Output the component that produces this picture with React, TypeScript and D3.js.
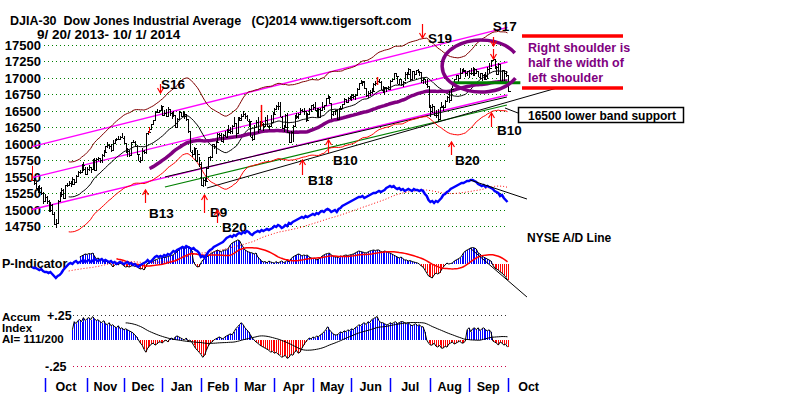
import React from 'react';
import * as d3 from 'd3';

const FONT = '"Liberation Sans", Arial, Helvetica, sans-serif';

// trading-day index 0 = 2013-09-20 ... 259 = 2014-10-01
const closes = [
  15452,15401,15334,15273,15328,15258,15130,
  15191,15133,14997,15073,14936,14776,14802,15126,15237,15301,15168,15373,15371,15400,15392,15467,15413,15510,15570,15569,15680,15618,15546,
  15616,15639,15618,15747,15594,15762,15784,15751,15822,15876,15962,15976,15968,15901,16010,16065,16073,16073,16098,16086,
  16008,15915,15889,15822,16020,16025,15973,15844,15740,15755,15885,15875,16168,16179,16221,16294,16358,16479,16479,16505,16577,
  16441,16470,16425,16531,16463,16444,16437,16257,16374,16482,16418,16459,16415,16374,16198,15879,15838,15929,15739,15849,15699,
  15373,15445,15441,15629,15795,15802,15994,15964,16027,16154,16130,16040,16133,16104,16208,16180,16199,16273,16322,
  16168,16396,16361,16422,16453,16419,16352,16341,16109,16066,16247,16337,16223,16332,16303,16276,16368,16268,16264,16323,16458,
  16533,16573,16573,16413,16246,16257,16438,16171,16027,16174,16263,16425,16409,16449,16514,16501,16502,16361,16449,16535,16581,
  16559,16513,16531,16402,16518,16551,16583,16695,16715,16614,16447,16492,16512,16374,16533,16543,16607,16676,16634,16699,16717,
  16743,16722,16738,16836,16924,16943,16946,16844,16734,16776,16781,16808,16906,16921,16947,16938,16818,16868,16846,16851,16827,
  16957,16976,17068,17024,16907,16985,16915,16944,17055,17061,17138,16977,17100,17052,17114,17086,17083,16961,16983,16912,16881,16563,
  16493,16569,16430,16443,16369,16554,16570,16561,16652,16713,16663,16839,16920,16980,17039,17001,17077,17106,17122,17079,17098,
  17068,17079,17069,17138,17111,17014,17068,17049,16987,17032,17131,17157,17266,17280,17173,17056,17211,16946,17113,17071,17043,
  16805,
];
const highs = [
  15660,15480,15420,15360,15370,15340,15260,
  15230,15210,15150,15120,15090,14960,14850,15150,15260,15320,15310,15380,15400,15430,15440,15500,15470,15530,15580,15600,15690,15720,15640,
  15650,15670,15650,15770,15790,15780,15800,15790,15840,15900,15970,16030,16000,16000,16050,16070,16090,16110,16120,16170,
  16110,16010,15940,15900,16030,16060,16040,15980,15850,15800,15930,15910,16170,16200,16250,16300,16360,16490,16530,16520,16590,
  16570,16520,16530,16560,16530,16480,16490,16440,16390,16500,16480,16490,16480,16450,16360,16190,15900,15950,15930,15900,15800,
  15720,15480,15480,15640,15800,15810,16000,16000,16040,16160,16170,16170,16150,16200,16230,16290,16250,16280,16400,
  16320,16410,16410,16450,16490,16460,16430,16370,16350,16130,16280,16360,16400,16350,16450,16310,16400,16430,16290,16430,16480,
  16540,16590,16630,16630,16420,16290,16450,16460,16180,16200,16290,16440,16460,16460,16540,16530,16540,16500,16460,16550,16590,
  16600,16630,16540,16540,16550,16630,16590,16700,16740,16720,16610,16500,16520,16510,16550,16580,16610,16690,16680,16710,16730,
  16750,16750,16750,16850,16930,16970,16950,16940,16850,16800,16810,16840,16920,16960,16950,16980,16960,16880,16860,16860,16870,
  16970,16990,17080,17070,17020,16990,16990,16960,17090,17090,17150,17140,17110,17100,17120,17130,17110,17080,17000,16990,16980,16870,
  16590,16600,16560,16520,16530,16560,16630,16590,16670,16730,16800,16850,16930,16990,17040,17050,17150,17130,17150,17120,17110,
  17120,17150,17160,17150,17140,17110,17070,17070,17060,17090,17160,17220,17270,17350,17280,17180,17220,17210,17120,17110,17110,
  17050,
];
const lows = [
  15430,15370,15310,15250,15250,15220,15080,
  15110,15090,14970,14960,14920,14760,14720,14800,15110,15190,15160,15160,15340,15360,15350,15380,15380,15400,15500,15540,15560,15580,15520,
  15530,15590,15560,15610,15580,15580,15740,15700,15700,15800,15860,15940,15920,15880,15900,15990,16040,16050,16070,16080,
  15990,15860,15800,15800,15820,16010,15960,15840,15730,15700,15750,15840,15840,16130,16180,16220,16290,16350,16470,16460,16500,
  16420,16440,16400,16420,16420,16380,16400,16240,16250,16370,16400,16410,16380,16350,16160,15870,15800,15840,15730,15740,15640,
  15360,15340,15360,15440,15630,15740,15800,15920,15850,16010,16080,16030,16010,16100,16100,16160,16150,16150,16250,
  16080,16170,16340,16360,16420,16380,16340,16260,16100,16040,16060,16240,16170,16220,16290,16190,16270,16260,16210,16260,16320,
  16450,16510,16510,16400,16230,16180,16250,16160,16010,16030,16020,16260,16380,16380,16450,16480,16440,16330,16340,16440,16480,
  16520,16490,16410,16390,16400,16520,16510,16580,16690,16600,16370,16420,16440,16360,16380,16510,16540,16610,16620,16640,16670,
  16650,16680,16670,16730,16830,16920,16880,16830,16710,16700,16730,16760,16780,16880,16900,16930,16810,16770,16740,16790,16810,
  16830,16940,16970,17010,16900,16910,16880,16860,16950,16990,17050,16960,16980,16990,17050,17070,17030,16920,16900,16900,16850,16550,
  16400,16460,16420,16390,16330,16360,16550,16500,16560,16650,16620,16670,16840,16900,16980,16940,17000,17070,17090,17020,17030,
  17000,17050,17030,17030,17060,17010,16980,16950,16970,16980,16990,17080,17160,17260,17130,17050,17040,16940,16950,16950,17010,
  16780,
];

const priceTicks = [14750,15000,15250,15500,15750,16000,16250,16500,16750,17000,17250,17500];
const monthTickIdx = [7,30,50,71,92,111,132,153,174,195,217,238,259,282];
const monthLabels = ['Oct','Nov','Dec','Jan','Feb','Mar','Apr','May','Jun','Jul','Aug','Sep','Oct'];

// NYSE A/D line (relative units)
const adLine = [
  11,10,10,9,8,9,7,6,6,5, 6,4,2,0,2,3,5,8,10,12, 14,15,14,16,17,15,16,17,18,16,
  17,18,16,17,19,18,17,18,19,17, 18,17,16,17,15,16,14,15,16,15, 14,15,16,14,15,13,14,12,11,13,
  14,15,16,18,16,17,19,21,22,21, 22,21,23,22,24,23,25,27,26,28, 29,30,31,30,32,31,30,29,30,28,
  27,25,21,22,20,23,26,28,29,31, 32,33,34,35,36,38,40,41,42,41, 43,42,44,45,44,46,45,47,46,44,
  43,45,46,47,46,48,47,48,49,48, 49,50,52,51,53,52,50,51,53,52, 55,54,56,57,58,59,60,61,60,62,
  61,62,63,64,63,65,64,66,67,66, 68,69,68,66,67,68,66,69,70,72, 73,74,75,76,77,78,79,80,81,81,
  82,80,81,82,83,84,85,85,86,87, 86,87,88,90,91,92,91,92,90,89, 90,88,89,87,88,89,88,87,89,88,
  88,87,88,87,84,82,78,76,77,75, 77,76,78,80,83,84,86,87,89,90, 91,92,93,94,95,95,96,97,97,98,
  98,97,96,94,93,92,93,91,92,91, 90,89,87,86,85,82,83,80,78,76,
];

// P-Indicator, starting at day index 26
const pStart = 26;
const pIndicator = [
  70,80,90,100,95,105,100,110,80,50, 60,45,40,30,35,20,10,0,-30,-10,
  5,-10,10,0,-20,-30,-25,-30,-20,-15, -25,-10,-40,-50,-45,-60,-30,10,15,25,
  30,40,45,55,60,60,70,65,75,80, 85,90,110,120,140,155,160,150,165,170,
  170,130,20,-10,-30,-25,10,40,55,70, 80,100,110,120,130,140,130,120,135,140,
  140,160,190,210,220,230,240,235,200,170, 140,130,120,115,110,100,110,70,50,30,
  20,25,10,30,20,15,10,25,10,20, 30,15,20,40,20,50,70,80,90,100,
  95,80,90,85,90,70,60,55,60,40, 50,60,80,90,100,105,110,90,80,70,
  70,65,80,75,85,90,85,90,95,100, 110,120,130,125,120,115,110,120,130,135,
  140,135,140,140,125,120,130,125,115,110, 100,90,80,70,60,70,55,40,40,30,
  35,25,20,15,10,0,-20,-30,-60,-90, -120,-130,-140,-110,-90,-100,-90,-60,-30,-10,
  10,0,5,10,30,40,50,60,80,110, 130,140,150,160,165,160,150,110,100,80,
  70,60,50,40,30,-10,-40,-50,-60,-80, -90,-110,-130,-160,
];

// Accumulation Index (hundredths), starting at day index 22
const aiStart = 22;
const accumIndex = [
  10,18,16,19,20,18,22,19,21,22, 20,23,21,19,20,18,17,19,16,15,
  17,14,15,13,12,14,11,12,10,11, 10,9,8,7,5,3,0,-3,-5,-9,
  -12,-8,-6,-4,-3,-5,-4,-2,-2,-3, -1,0,-2,1,2,0,3,4,3,2,
  1,0,2,-1,0,-2,-5,-8,-10,-12, -14,-17,-15,-10,-6,-3,-2,0,1,2,
  3,2,1,3,4,5,6,5,8,11, 13,15,17,15,12,10,8,5,2,0,
  -2,-3,-5,-6,-7,-8,-9,-10,-12,-11, -13,-12,-14,-15,-17,-16,-15,-18,-17,-14,
  -15,-12,-10,-13,-12,-8,-5,-2,0,2, 1,3,2,4,3,5,6,8,10,13,
  10,8,6,5,5,6,8,7,9,8, 10,9,11,10,12,13,15,14,16,17,
  15,18,17,20,21,22,23,19,17,17, 16,15,15,17,16,17,18,16,17,18,
  18,17,16,17,15,14,15,16,14,15, 13,13,8,0,-3,-5,-5,-3,-6,-7,
  -5,-8,-8,-6,-7,-4,-3,-2,-4,-3, -2,-1,-3,-3,-1,10,12,8,11,12,
  10,12,9,11,12,10,9,10,8,-1, -2,-3,-5,-2,-3,-5,-4,-7,
];

// straight lines: [i1, v1, i2, v2]
const channelLines = [
  [0, 15957, 259, 17767],
  [0, 15485, 259, 17242],
  [0, 15000, 259, 16740],
];
const blackTrendLines = [
  [72.4, 15495, 258.7, 16710],
  [95.3, 15327, 286, 16847],
];
const greenTrendLines = [[72.4, 15343, 258.7, 16588]];
const adTrend = [238.6, 98, 269.6, 79];
const pTrend = [238.6, 160, 269.6, -330];
const neckline = [229, 16925, 266, 16925];

const redBarIdx = [0, 64];
const redMarks = [[125, 16590, 16260], [188, 17014, 16892]];

// signal arrows: index, tail value, tip value; label at (li, lv)
const signals = [
  { t: 'S16', i: 69.7, from: 16907, to: 16771, li: 70.3, lv: 16831 },
  { t: 'S19', i: 212.4, from: 17819, to: 17606, li: 215.7, lv: 17530 },
  { t: 'S17', i: 251, from: 17622, to: 17485, li: 251, lv: 17713 },
  { t: '', i: 251, from: 17439, to: 17287, li: 0, lv: 0 },
  { t: 'B13', i: 61.5, from: 15100, to: 15297, li: 63.7, lv: 14872 },
  { t: 'B9', i: 93.7, from: 14948, to: 15221, li: 97, lv: 14887 },
  { t: 'B20', i: 100.8, from: 14796, to: 14993, li: 103.5, lv: 14659 },
  { t: 'B18', i: 147, from: 15525, to: 15753, li: 150.3, lv: 15373 },
  { t: 'B10', i: 161.2, from: 15859, to: 16057, li: 164, lv: 15677 },
  { t: 'B20', i: 228.2, from: 15829, to: 16026, li: 230.4, lv: 15677 },
  { t: 'B10', i: 250, from: 16254, to: 16467, li: 253.3, lv: 16133 },
];

const shoulderEllipse = { i: 244.6, v: 17181, di: 21.2, dv: 395 };

function trailingMean(vals: number[], win: number, first: number, offset: number, partial = false) {
  const out: [number, number][] = [];
  for (let k = first; k < vals.length; k++) {
    const s = partial ? Math.max(0, k - win + 1) : k - win + 1;
    if (s < 0) continue;
    const slice = vals.slice(s, k + 1);
    out.push([k + offset, d3.mean(slice) as number]);
  }
  return out;
}

export default function App() {
  const x = d3.scaleLinear().domain([0, 259]).range([32, 507.5]);
  const y = d3.scaleLinear().domain([14750, 17500]).range([226, 45]);
  const adY = d3.scaleLinear().domain([0, 100]).range([278, 178]);
  const pY = d3.scaleLinear().domain([-300, 300]).range([294, 234]);
  const aiY = d3.scaleLinear().domain([-0.25, 0.25]).range([365.5, 314.5]);
  const px = (i: number) => Math.round(x(i)) + 0.5;

  const n = Math.min(closes.length, highs.length, lows.length);
  const ma21 = trailingMean(closes, 21, 20, 0);
  const ma65 = trailingMean(closes, 65, 64, 0);
  const adMA = trailingMean(adLine, 30, 20, 0, true);
  const pMA = trailingMean(pIndicator, 21, 20, pStart);
  const aiMA = trailingMean(accumIndex, 30, 29, aiStart);

  const priceLine = d3.line<[number, number]>().x(d => x(d[0])).y(d => y(d[1]));
  const adPath = d3.line<[number, number]>().x(d => x(d[0])).y(d => adY(d[1]));
  const pPath = d3.line<[number, number]>().x(d => x(d[0])).y(d => pY(d[1]));
  const aiPath = d3.line<[number, number]>().x(d => x(d[0])).y(d => aiY(d[1] / 100));

  const upper = ma21.map(([i, m]) => [i, m * 1.035] as [number, number]);
  const lower = ma21.map(([i, m]) => [i, m * 0.965] as [number, number]);

  const seg = (l: number[], color: string, w: number, key: string, dash?: string) => (
    <line key={key} x1={x(l[0])} y1={y(l[1])} x2={x(l[2])} y2={y(l[3])} stroke={color} strokeWidth={w} strokeDasharray={dash} />
  );

  const arrow = (xp: number, yTail: number, yTip: number, key: string) => {
    const dir = Math.sign(yTail - yTip);
    return (
      <g key={key} stroke="#ff0000" strokeWidth={1.2} fill="none">
        <line x1={xp} y1={yTail} x2={xp} y2={yTip} />
        <polyline points={`${xp - 3},${yTip + dir * 5} ${xp},${yTip} ${xp + 3},${yTip + dir * 5}`} />
      </g>
    );
  };

  // ellipse arc (open on the right side)
  const ecx = x(shoulderEllipse.i), ecy = y(shoulderEllipse.v);
  const erx = x(shoulderEllipse.i + shoulderEllipse.di) - ecx;
  const ery = y(shoulderEllipse.v - shoulderEllipse.dv) - ecy;
  const a0 = (-30 * Math.PI) / 180, a1 = (28 * Math.PI) / 180;
  const ellipsePath = `M${ecx + erx * Math.cos(a0)},${ecy + ery * Math.sin(a0)} A${erx},${ery} 0 1 0 ${ecx + erx * Math.cos(a1)},${ecy + ery * Math.sin(a1)}`;

  const gx0 = 44, gx1 = 508;
  const bold = { fontFamily: FONT, fontWeight: 700 } as const;

  return (
    <svg width={800} height={395} style={{ position: 'absolute', left: 0, top: 0, background: '#fff' }}>
      <rect x={0} y={0} width={800} height={395} fill="#fff" />
      {/* titles */}
      <text x={10} y={24.5} fontSize={12.5} {...bold} style={{ whiteSpace: 'pre' }}>
        {'DJIA-30  Dow Jones Industrial Average   (C)2014 www.tigersoft.com'}
      </text>
      <text x={37} y={39} fontSize={13.5} {...bold} style={{ whiteSpace: 'pre' }}>
        {'9/ 20/ 2013- 10/ 1/ 2014'}
      </text>

      {/* grid + y labels */}
      {priceTicks.map(t => (
        <g key={t}>
          <line x1={gx0} x2={gx1} y1={Math.round(y(t)) + 0.5} y2={Math.round(y(t)) + 0.5} stroke="#008000" strokeDasharray="1 3" />
          <text x={41} y={y(t) + 5} fontSize={13} textAnchor="end" {...bold}>{t}</text>
        </g>
      ))}

      {/* channel and trend lines */}
      {channelLines.map((l, k) => seg(l, '#ff00ff', 1.4, 'ch' + k))}
      {greenTrendLines.map((l, k) => seg(l, '#008000', 1.2, 'gt' + k))}
      {blackTrendLines.map((l, k) => seg(l, '#000', 1, 'bt' + k))}

      {/* bands */}
      <path d={priceLine(upper) || ''} fill="none" stroke="#800000" strokeWidth={1} />
      <path d={priceLine(lower) || ''} fill="none" stroke="#ff0000" strokeWidth={1} />
      <path d={priceLine(ma21) || ''} fill="none" stroke="#000" strokeWidth={1} />
      <path d={priceLine(ma65) || ''} fill="none" stroke="#800080" strokeWidth={3.5} />

      {/* price bars */}
      {d3.range(n).map(i => {
        const c = redBarIdx.includes(i) ? '#ff0000' : '#000';
        const xx = px(i);
        const yc = Math.round(y(closes[i])) + 0.5;
        const yo = Math.round(y(i > 0 ? closes[i - 1] : closes[i])) + 0.5;
        return (
          <g key={'b' + i} stroke={c} strokeWidth={1} shapeRendering="crispEdges">
            <line x1={xx} x2={xx} y1={y(highs[i])} y2={y(lows[i])} />
            <line x1={xx} x2={xx + 2} y1={yc} y2={yc} />
            <line x1={xx - 2} x2={xx} y1={yo} y2={yo} />
          </g>
        );
      })}
      {redMarks.map((m, k) => (
        <line key={'rm' + k} x1={px(m[0])} x2={px(m[0])} y1={y(m[1])} y2={y(m[2])} stroke="#ff0000" strokeWidth={1.5} />
      ))}

      {/* head and shoulders annotations */}
      <line x1={x(neckline[0])} x2={x(neckline[2])} y1={y(neckline[1])} y2={y(neckline[3])} stroke="#008000" strokeWidth={3} />
      <path d={ellipsePath} fill="none" stroke="#800080" strokeWidth={3.5} />
      <line x1={522} x2={623} y1={36} y2={36} stroke="#ff0000" strokeWidth={3.5} />
      <line x1={522} x2={623} y1={88} y2={88} stroke="#ff0000" strokeWidth={3.5} />
      <text fontSize={12.5} fill="#800080" {...bold}>
        <tspan x={528} y={52}>Right shoulder is</tspan>
        <tspan x={528} y={67}>half the width of</tspan>
        <tspan x={528} y={82}>left shoulder</tspan>
      </text>
      <line x1={505} y1={108} x2={518} y2={113} stroke="#000" strokeWidth={1} />
      <rect x={518.5} y={107.5} width={165} height={15} fill="#fff" stroke="#000" strokeWidth={1.5} />
      <text x={528} y={119.5} fontSize={12} {...bold}>16500 lower band support</text>

      {/* signals */}
      {signals.map((s, k) => (
        <g key={'s' + k}>
          {arrow(px(s.i), y(s.from), y(s.to), 'a' + k)}
          {s.t && <text x={x(s.li)} y={y(s.lv)} fontSize={13.5} {...bold}>{s.t}</text>}
        </g>
      ))}

      {/* P-Indicator panel */}
      {pIndicator.map((v, k) => (
        <line key={'p' + k} x1={px(k + pStart)} x2={px(k + pStart)} y1={pY(0)} y2={pY(v)}
          stroke={v >= 0 ? '#0000ff' : '#ff0000'} strokeWidth={1} shapeRendering="crispEdges" />
      ))}
      <path d={pPath(pIndicator.map((v, k) => [k + pStart, v] as [number, number])) || ''} fill="none" stroke="#000" strokeWidth={1} />
      <path d={pPath(pMA) || ''} fill="none" stroke="#ff0000" strokeWidth={1.5} />
      <line x1={x(pTrend[0])} y1={pY(pTrend[1])} x2={x(pTrend[2])} y2={pY(pTrend[3])} stroke="#000" strokeWidth={1} />
      <text x={2} y={268} fontSize={12.5} {...bold}>P-Indicator</text>

      {/* NYSE A/D line */}
      <path d={adPath(adMA) || ''} fill="none" stroke="#ff0000" strokeWidth={1} strokeDasharray="1 2" />
      <path d={adPath(adLine.map((v, i) => [i, v] as [number, number])) || ''} fill="none" stroke="#0000ff" strokeWidth={2.5} />
      <line x1={x(adTrend[0])} y1={adY(adTrend[1])} x2={x(adTrend[2])} y2={adY(adTrend[3])} stroke="#000" strokeWidth={1} />
      <text x={527} y={242} fontSize={12} {...bold}>NYSE A/D Line</text>

      {/* Accumulation index panel */}
      <line x1={73} x2={508} y1={315.5} y2={315.5} stroke="#333" strokeDasharray="1 3" />
      <line x1={73} x2={508} y1={366.5} y2={366.5} stroke="#cc0044" strokeDasharray="1 3" />
      {accumIndex.map((v, k) => (
        <line key={'ai' + k} x1={px(k + aiStart)} x2={px(k + aiStart)} y1={aiY(0)} y2={aiY(v / 100)}
          stroke={v >= 0 ? '#0000ff' : '#ff0000'} strokeWidth={1} shapeRendering="crispEdges" />
      ))}
      <path d={aiPath(accumIndex.map((v, k) => [k + aiStart, v] as [number, number])) || ''} fill="none" stroke="#000" strokeWidth={1} />
      <path d={aiPath(aiMA) || ''} fill="none" stroke="#000" strokeWidth={1} />
      <text x={47} y={320} fontSize={12.5} {...bold}>+.25</text>
      <text x={45} y={371} fontSize={12.5} {...bold}>-.25</text>
      <text fontSize={11.5} {...bold}>
        <tspan x={2} y={321}>Accum</tspan>
        <tspan x={2} y={332}>Index</tspan>
        <tspan x={2} y={343}>AI= 111/200</tspan>
      </text>

      {/* month axis */}
      {monthTickIdx.slice(0, 13).map((t, k) => (
        <line key={'mt' + k} x1={px(t)} x2={px(t)} y1={378} y2={392} stroke="#0000ff" strokeWidth={1.5} />
      ))}
      {monthLabels.map((m, k) => (
        <text key={'ml' + k} x={(x(monthTickIdx[k]) + x(monthTickIdx[k + 1])) / 2} y={391} fontSize={12.5} textAnchor="middle" {...bold}>{m}</text>
      ))}
    </svg>
  );
}
